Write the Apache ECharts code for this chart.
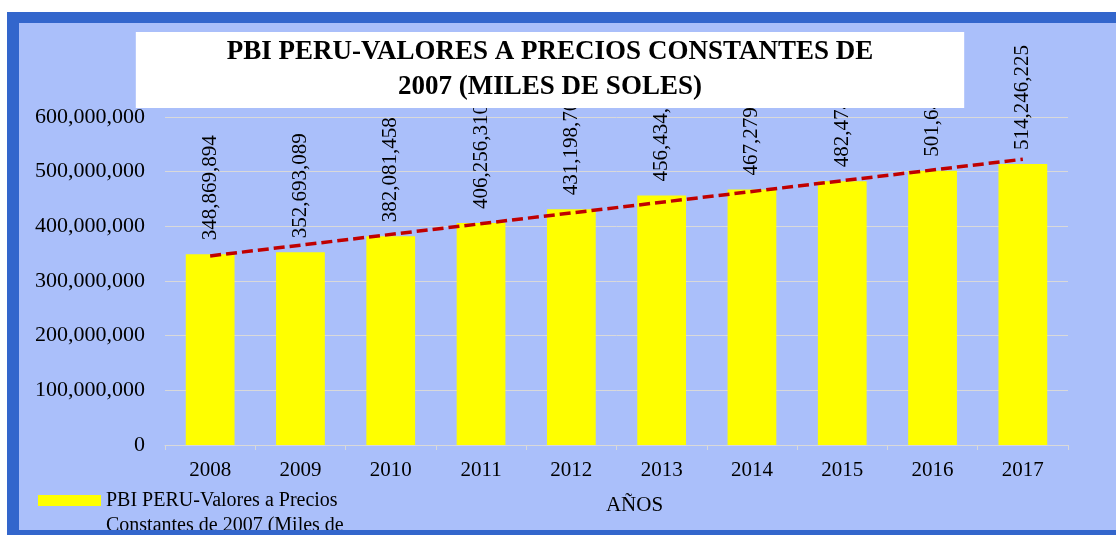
<!DOCTYPE html>
<html>
<head>
<meta charset="utf-8">
<title>PBI PERU</title>
<script src="https://cdn.jsdelivr.net/npm/echarts@6/dist/echarts.min.js"></script>
<style>
    html, body { margin: 0; padding: 0; background: #fff; overflow: hidden; }
    .marco {
        position: absolute; left: 7px; top: 12px;
        border: 12px solid #3366CC; border-top-width: 11px;
        width: 1097px; height: 507px;
    }
    .grafico { width: 1097px; height: 507px; }
</style>
</head>
<body>
<div class="marco"><div class="grafico"></div></div>
<script>
    // datos
    var anios = ['2008', '2009', '2010', '2011', '2012', '2013', '2014', '2015', '2016', '2017'];
    var pbi = [348869894, 352693089, 382081458, 406256310, 431198700, 456434900, 467279500, 482474500, 501640000, 514246225];
    // línea de tendencia (extremos)
    var tendencia = [345900000, 522700000];
    var ejeY = { min: 0, max: 600000000, paso: 100000000 };

    var nombreSerie = 'PBI PERU-Valores a Precios Constantes de 2007 (Miles de Soles)';
    var fuente = 'Liberation Serif';
    var gris = '#D9D9D9';

    var grafico = echarts.init(document.querySelector('.grafico'));

    var opcion = {
        backgroundColor: '#AABFFA',
        animation: false,
        title: {
            text: 'PBI PERU-VALORES A PRECIOS CONSTANTES DE\n2007 (MILES DE SOLES)',
            left: 440,
            top: 9,
            padding: [3, 91],
            backgroundColor: '#fff',
            textAlign: 'center',
            textStyle: {
                fontFamily: fuente,
                fontSize: 27,
                fontWeight: 'bold',
                color: '#000',
                lineHeight: 35
            }
        },
        legend: {
            left: 19,
            top: 465,
            padding: 0,
            // rectángulo amarillo arriba, a la altura de la primera línea
            icon: 'path://M0,0H63V11H0Z M0,61L0,61',
            itemWidth: 63,
            itemHeight: 61,
            selectedMode: false,
            data: [nombreSerie],
            textStyle: {
                fontFamily: fuente,
                fontSize: 20,
                color: '#000',
                width: 255,
                overflow: 'break',
                lineHeight: 25
            }
        },
        grid: {
            left: 146,
            right: 48,
            top: 94,
            bottom: 85
        },
        xAxis: {
            type: 'category',
            data: anios,
            name: 'AÑOS',
            nameLocation: 'middle',
            nameGap: 50,
            nameTextStyle: {
                fontFamily: fuente,
                fontSize: 21,
                color: '#000',
                padding: [0, 0, 0, 36]
            },
            axisLine: { lineStyle: { color: gris, width: 1 } },
            axisTick: { show: true, length: 5, lineStyle: { color: gris } },
            axisLabel: { fontFamily: fuente, fontSize: 21, color: '#000', margin: 15 }
        },
        yAxis: {
            type: 'value',
            min: ejeY.min,
            max: ejeY.max,
            interval: ejeY.paso,
            axisLine: { show: false },
            axisTick: { show: false },
            splitLine: { lineStyle: { color: gris, width: 1 } },
            axisLabel: {
                fontFamily: fuente,
                fontSize: 22,
                color: '#000',
                margin: 20,
                formatter: function (v) { return echarts.format.addCommas(v); }
            }
        },
        series: [{
            name: nombreSerie,
            type: 'bar',
            data: pbi,
            barWidth: '54%',
            itemStyle: { color: '#FFFF00' },
            label: {
                show: true,
                position: 'top',
                rotate: 90,
                align: 'left',
                verticalAlign: 'middle',
                distance: 14,
                fontFamily: fuente,
                fontSize: 21,
                color: '#000',
                formatter: function (p) { return echarts.format.addCommas(p.value); }
            },
            markLine: {
                silent: true,
                symbol: 'none',
                label: { show: false },
                lineStyle: { color: '#C00000', width: 3.5, type: [11, 5] },
                data: [[
                    { coord: [anios[0], tendencia[0]] },
                    { coord: [anios[anios.length - 1], tendencia[1]] }
                ]]
            }
        }]
    };

    grafico.setOption(opcion);
</script>
</body>
</html>
